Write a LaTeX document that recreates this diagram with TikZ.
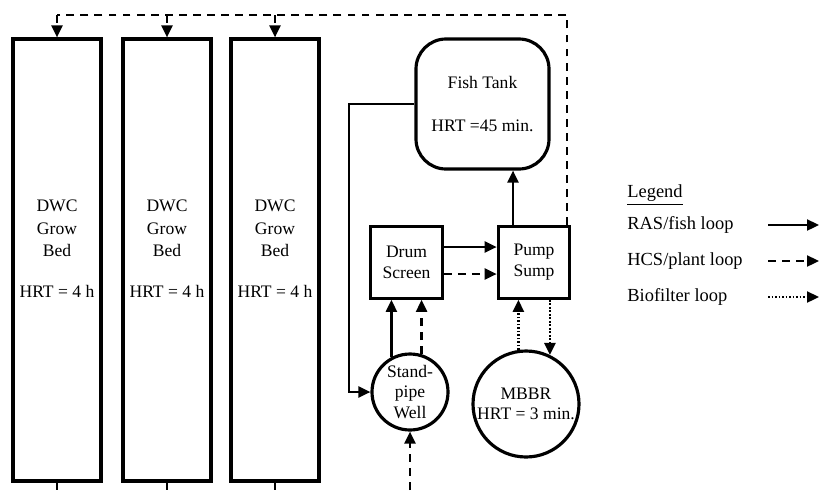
\documentclass[tikz,border=0pt]{standalone}
\usepackage{fontspec}
\setmainfont{Liberation Serif}
\usepackage{tikz}
\usetikzlibrary{arrows.meta,calc}

\begin{document}
\begin{tikzpicture}[>={Triangle[length=2.4mm,width=2.2mm]},font=\fontsize{10}{13}\selectfont,line cap=butt,
  bed/.style={draw,line width=1.8pt,minimum width=1.76cm,minimum height=8.84cm},
  unit/.style={draw,line width=1.8pt,minimum width=1.43cm,minimum height=1.43cm,align=center,font=\fontsize{10}{12}\selectfont},
  tank/.style={draw,line width=1.8pt,rounded corners=0.6cm,minimum width=2.66cm,minimum height=2.6cm,align=center},
  well/.style={draw,circle,line width=1.8pt,inner sep=0pt,align=center,font=\fontsize{10}{11.5}\selectfont},
  legtext/.style={anchor=west,inner sep=0pt,font=\fontsize{10.5}{12}\selectfont},
  ras/.style={line width=1.3pt},
  hcs/.style={line width=1.3pt,dash pattern=on 4.5pt off 3.5pt},
  bio/.style={line width=1.3pt,dash pattern=on 1pt off 1pt}]
\useasboundingbox (0,0) rectangle (16.4,9.8);
\node[bed] (bed1) at (1.14,4.6) {};
\node[bed] (bed2) at (3.34,4.6) {};
\node[bed] (bed3) at (5.5,4.6) {};
\node[align=center] (txt1) at ([yshift=0.23cm]bed1.center) {DWC\\Grow\\Bed\\[10pt]HRT = 4 h};
\node[align=center] (txt2) at ([yshift=0.23cm]bed2.center) {DWC\\Grow\\Bed\\[10pt]HRT = 4 h};
\node[align=center] (txt3) at ([yshift=0.23cm]bed3.center) {DWC\\Grow\\Bed\\[10pt]HRT = 4 h};
\node[tank] (tank) at (9.65,7.72) {Fish Tank\\[11pt]HRT =45 min.};
\node[unit] (drum) at (8.13,4.55) {Drum\\Screen};
\node[unit] (pump) at (10.68,4.55) {Pump\\Sump};
\node[well,minimum size=1.52cm] (well) at (8.2,1.96) {Stand-\\pipe\\Well};
\node[well,minimum size=2.12cm] (mbbr) at (10.52,1.72) {MBBR\\HRT = 3 min.};
\coordinate (ret) at (11.34,9.5);
\coordinate (bend) at (6.98,1.96);
\draw[hcs] (ret |- pump.north) -- (ret) -- (ret -| bed1.north);
\foreach \b in {bed1,bed2,bed3}{
  \draw[hcs,->] (ret -| \b.north) -- (\b.north);
  \draw[ras] (\b.south) -- (\b.south |- 0,0);
}
\draw[ras,->] (tank.west) -| (bend) -- (well.west);
\draw[ras,->] ([xshift=-0.42cm]pump.north) -- ([xshift=-0.42cm]pump.north |- tank.south);
\draw[ras,->] ([yshift=0.31cm]drum.east) -- ([yshift=0.31cm]drum.east -| pump.west);
\draw[hcs,->] ([yshift=-0.23cm]drum.east) -- ([yshift=-0.23cm]drum.east -| pump.west);
\draw[ras,->] (well.118) -- (well.118 |- drum.south);
\draw[hcs,->] (well.73) -- (well.73 |- drum.south);
\draw[hcs,->] (well.south |- 0,0) -- (well.south);
\draw[bio,->] (mbbr.98) -- (mbbr.98 |- pump.south);
\draw[bio,->] (mbbr.64 |- pump.south) -- (mbbr.64);
\node[legtext] (leg) at (12.54,5.9) {\underline{Legend}};
\node[legtext] (lras) at (12.54,5.3) {RAS/fish loop};
\node[legtext] (lhcs) at (12.54,4.58) {HCS/plant loop};
\node[legtext] (lbio) at (12.54,3.86) {Biofilter loop};
\draw[ras,->] (15.36,5.3) -- (16.38,5.3);
\draw[hcs,->] (15.36,4.58) -- (16.38,4.58);
\draw[bio,->] (15.36,3.86) -- (16.38,3.86);
\end{tikzpicture}
\end{document}
